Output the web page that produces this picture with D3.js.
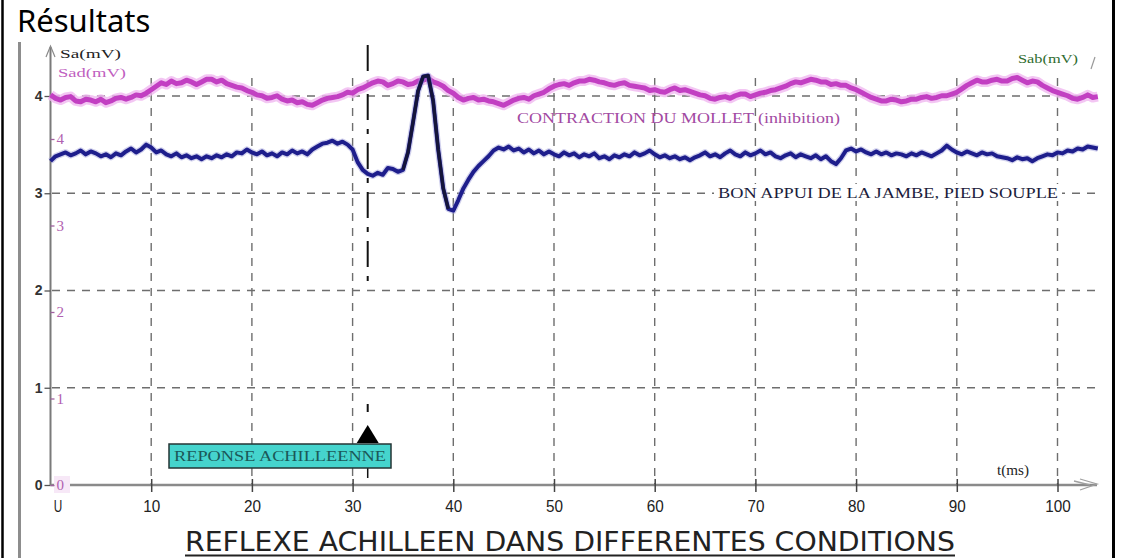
<!DOCTYPE html>
<html>
<head>
<meta charset="utf-8">
<script src="https://cdn.jsdelivr.net/npm/d3@7"></script>
<style>
  body { margin: 0; background: #fff; }
  svg { display: block; }
</style>
</head>
<body>
<div id="chart"></div>
<script>
var svgWidth = 1123;
var svgHeight = 558;

// sampling of the recorder, ms
var sampleStep = 0.5;

// Sa (blue trace, black scale) read every 0.5 ms from 0 to 104 ms
var saValues = [
  3.33, 3.38, 3.40, 3.42, 3.39, 3.41, 3.44, 3.40, 3.43, 3.41,
  3.38, 3.40, 3.37, 3.41, 3.39, 3.43, 3.46, 3.42, 3.45, 3.50,
  3.47, 3.42, 3.44, 3.40, 3.38, 3.41, 3.37, 3.39, 3.36, 3.38,
  3.35, 3.38, 3.36, 3.39, 3.37, 3.40, 3.38, 3.42, 3.41, 3.45,
  3.42, 3.40, 3.43, 3.39, 3.41, 3.38, 3.42, 3.40, 3.44, 3.41,
  3.43, 3.40, 3.45, 3.48, 3.51, 3.52, 3.54, 3.51, 3.53, 3.50,
  3.45, 3.32, 3.24, 3.20, 3.18, 3.21, 3.19, 3.26, 3.25, 3.22,
  3.24, 3.42, 3.73, 4.05, 4.20, 4.21, 3.95, 3.45, 3.05, 2.84,
  2.82, 2.93, 3.05, 3.14, 3.22, 3.28, 3.33, 3.38, 3.44, 3.47,
  3.45, 3.48, 3.44, 3.46, 3.42, 3.45, 3.41, 3.44, 3.40, 3.43,
  3.40, 3.38, 3.42, 3.39, 3.41, 3.37, 3.40, 3.38, 3.41, 3.36,
  3.38, 3.35, 3.39, 3.37, 3.40, 3.38, 3.42, 3.39, 3.41, 3.44,
  3.40, 3.37, 3.39, 3.36, 3.38, 3.35, 3.37, 3.34, 3.37, 3.39,
  3.42, 3.38, 3.40, 3.37, 3.41, 3.44, 3.40, 3.38, 3.42, 3.39,
  3.41, 3.44, 3.40, 3.42, 3.38, 3.36, 3.39, 3.41, 3.37, 3.40,
  3.38, 3.36, 3.39, 3.35, 3.38, 3.33, 3.30, 3.36, 3.44, 3.46,
  3.43, 3.45, 3.42, 3.40, 3.43, 3.40, 3.42, 3.39, 3.41, 3.40,
  3.38, 3.41, 3.39, 3.42, 3.40, 3.38, 3.41, 3.44, 3.49, 3.45,
  3.42, 3.40, 3.43, 3.41, 3.39, 3.42, 3.40, 3.41, 3.38, 3.37,
  3.36, 3.34, 3.37, 3.35, 3.36, 3.33, 3.36, 3.38, 3.40, 3.39,
  3.42, 3.41, 3.44, 3.43, 3.46, 3.45, 3.48, 3.47, 3.46
];

// Sad (purple trace, purple scale) read every 0.5 ms from 0 to 104 ms
var sadValues = [
  4.51, 4.47, 4.45, 4.48, 4.49, 4.44, 4.43, 4.46, 4.45, 4.43,
  4.46, 4.42, 4.44, 4.47, 4.48, 4.46, 4.48, 4.51, 4.50, 4.53,
  4.57, 4.61, 4.65, 4.63, 4.67, 4.64, 4.65, 4.68, 4.66, 4.63,
  4.66, 4.69, 4.69, 4.66, 4.68, 4.64, 4.62, 4.60, 4.59, 4.56,
  4.54, 4.51, 4.50, 4.47, 4.48, 4.50, 4.46, 4.44, 4.45, 4.42,
  4.43, 4.40, 4.39, 4.42, 4.45, 4.47, 4.48, 4.49, 4.51, 4.54,
  4.53, 4.57, 4.59, 4.62, 4.65, 4.67, 4.66, 4.62, 4.64, 4.67,
  4.66, 4.63, 4.64, 4.67, 4.68, 4.70, 4.66, 4.64, 4.61, 4.56,
  4.53, 4.48, 4.45, 4.47, 4.48, 4.45, 4.46, 4.44, 4.43, 4.41,
  4.39, 4.42, 4.45, 4.47, 4.48, 4.46, 4.50, 4.52, 4.54, 4.58,
  4.61, 4.63, 4.64, 4.62, 4.65, 4.67, 4.67, 4.69, 4.68, 4.66,
  4.65, 4.63, 4.62, 4.64, 4.65, 4.62, 4.61, 4.60, 4.59, 4.56,
  4.57, 4.55, 4.54, 4.57, 4.59, 4.56, 4.57, 4.55, 4.53, 4.51,
  4.50, 4.47, 4.46, 4.48, 4.49, 4.47, 4.50, 4.52, 4.52, 4.49,
  4.51, 4.53, 4.54, 4.56, 4.57, 4.59, 4.61, 4.64, 4.66, 4.65,
  4.67, 4.69, 4.68, 4.66, 4.66, 4.63, 4.64, 4.62, 4.62, 4.59,
  4.57, 4.54, 4.51, 4.48, 4.46, 4.44, 4.44, 4.46, 4.45, 4.43,
  4.44, 4.46, 4.46, 4.48, 4.49, 4.47, 4.48, 4.50, 4.50, 4.52,
  4.54, 4.58, 4.62, 4.65, 4.68, 4.66, 4.66, 4.68, 4.69, 4.67,
  4.67, 4.70, 4.71, 4.68, 4.65, 4.67, 4.66, 4.62, 4.59, 4.56,
  4.54, 4.52, 4.50, 4.47, 4.46, 4.48, 4.51, 4.48, 4.49
];

var timeTicks = [0, 10, 20, 30, 40, 50, 60, 70, 80, 90, 100];
var timeTickLabels = ["U", "10", "20", "30", "40", "50", "60", "70", "80", "90", "100"];
var saTicks = [0, 1, 2, 3, 4];
var sadTicks = [0, 1, 2, 3, 4];
var reflexTime = 31.5;

var svg = d3.select("#chart")
  .append("svg")
  .attr("width", svgWidth)
  .attr("height", svgHeight);

var x = d3.scaleLinear().domain([0, 100]).range([50.5, 1057.5]);
var ySa = d3.scaleLinear().domain([0, 4]).range([485, 96]);
var ySad = d3.scaleLinear().domain([0, 4]).range([485, 139]);

// page frame and picture edge
svg.append("line").attr("x1", 2.5).attr("x2", 2.5).attr("y1", 0).attr("y2", svgHeight)
  .attr("stroke", "#000").attr("stroke-width", 2.5);
svg.append("line").attr("x1", 1113.5).attr("x2", 1113.5).attr("y1", 0).attr("y2", svgHeight)
  .attr("stroke", "#000").attr("stroke-width", 3);
svg.append("line").attr("x1", 19.5).attr("x2", 19.5).attr("y1", 42).attr("y2", svgHeight)
  .attr("stroke", "#8d8d8d").attr("stroke-width", 3);

svg.append("text")
  .attr("x", 17).attr("y", 32)
  .attr("font-family", "Noto Sans, Open Sans, sans-serif")
  .attr("font-size", 31)
  .attr("fill", "#000")
  .text("Résultats");

// grid
var grid = svg.append("g")
  .attr("stroke", "#6e6e6e")
  .attr("stroke-width", 1.4)
  .attr("stroke-dasharray", "8,7");

grid.selectAll(".hgrid")
  .data(saTicks.slice(1))
  .enter()
  .append("line")
  .attr("x1", 52).attr("x2", 1097)
  .attr("y1", d => ySa(d)).attr("y2", d => ySa(d));

grid.selectAll(".vgrid")
  .data(timeTicks.slice(1))
  .enter()
  .append("line")
  .attr("x1", d => x(d)).attr("x2", d => x(d))
  .attr("y1", 78).attr("y2", 485);

// reflex marker line
var markX = x(reflexTime);
svg.append("line")
  .attr("x1", markX).attr("x2", markX).attr("y1", 45).attr("y2", 290)
  .attr("stroke", "#111").attr("stroke-width", 2)
  .attr("stroke-dasharray", "26,9,5,9");
svg.append("line")
  .attr("x1", markX).attr("x2", markX).attr("y1", 404).attr("y2", 412)
  .attr("stroke", "#111").attr("stroke-width", 2);
svg.append("line")
  .attr("x1", markX).attr("x2", markX).attr("y1", 468).attr("y2", 478)
  .attr("stroke", "#111").attr("stroke-width", 1.5);

// axes lines
svg.append("line").attr("x1", 50.5).attr("x2", 50.5).attr("y1", 485).attr("y2", 47)
  .attr("stroke", "#7a7a7a").attr("stroke-width", 2);
svg.append("path").attr("d", "M46,57 L50.5,46 L55,57")
  .attr("fill", "none").attr("stroke", "#8a8a8a").attr("stroke-width", 1.2);
svg.append("line").attr("x1", 50.5).attr("x2", 1097).attr("y1", 485).attr("y2", 485)
  .attr("stroke", "#8a8a8a").attr("stroke-width", 2.5);
svg.append("path").attr("d", "M1080,479 L1097,484 L1080,490 M1074,481 L1090,485")
  .attr("fill", "none").attr("stroke", "#a0a0a0").attr("stroke-width", 1.3);

// x axis ticks and labels
var xAxis = svg.append("g")
  .attr("transform", "translate(0,485)")
  .call(d3.axisBottom(x).tickValues(timeTicks).tickSize(7).tickPadding(8)
    .tickFormat((d, i) => timeTickLabels[i]));
xAxis.select(".domain").remove();
xAxis.selectAll(".tick line").attr("y1", -6).attr("stroke", "#444").attr("stroke-width", 1.5);
xAxis.selectAll(".tick text")
  .attr("font-family", "Liberation Sans, sans-serif")
  .attr("textLength", (d, i) => timeTickLabels[i].length * 8.5)
  .attr("lengthAdjust", "spacingAndGlyphs")
  .attr("fill", "#222")
  .attr("dx", (d, i) => i === 0 ? 7 : 0)
  .style("font-size", "17px");
xAxis.select(".tick line").remove();

// Sa axis (black)
var saAxis = svg.append("g")
  .attr("transform", "translate(50.5,0)")
  .call(d3.axisLeft(ySa).tickValues(saTicks).tickSize(6).tickPadding(2).tickFormat(d3.format("d")));
saAxis.select(".domain").remove();
saAxis.selectAll(".tick line").attr("stroke", "#555").attr("stroke-width", 1.3);
saAxis.selectAll(".tick text")
  .attr("font-family", "Liberation Sans, Arial, sans-serif")
  .attr("font-weight", "bold")
  .attr("fill", "#333")
  .style("font-size", "14px");

// Sad axis (purple)
svg.append("rect").attr("x", 54).attr("y", 476).attr("width", 16).attr("height", 17)
  .attr("fill", "#f7e8f7");
var sadAxis = svg.append("g")
  .attr("transform", "translate(50.5,0)")
  .call(d3.axisRight(ySad).tickValues(sadTicks).tickSize(4).tickPadding(2).tickFormat(d3.format("d")));
sadAxis.select(".domain").remove();
sadAxis.selectAll(".tick line").attr("stroke", "#a060a0").attr("stroke-width", 1.3);
sadAxis.selectAll(".tick text")
  .attr("font-family", "Liberation Serif, serif")
  .attr("fill", "#b060b0")
  .style("font-size", "15px");

// traces
var saLine = d3.line()
  .x((d, i) => x(i * sampleStep))
  .y(d => ySa(d));
var sadLine = d3.line()
  .x((d, i) => x(i * sampleStep))
  .y(d => ySad(d));

svg.append("path").datum(sadValues)
  .attr("d", sadLine)
  .attr("fill", "none").attr("stroke", "#f0b8f0").attr("stroke-width", 10)
  .attr("stroke-linejoin", "round").attr("opacity", 0.8);
svg.append("path").datum(sadValues)
  .attr("d", sadLine)
  .attr("fill", "none").attr("stroke", "#c23fc2").attr("stroke-width", 5)
  .attr("stroke-linejoin", "round");

svg.append("path").datum(saValues)
  .attr("d", saLine)
  .attr("fill", "none").attr("stroke", "#9a9ad8").attr("stroke-width", 6.5)
  .attr("stroke-linejoin", "round").attr("opacity", 0.45);
svg.append("path").datum(saValues)
  .attr("d", saLine)
  .attr("fill", "none").attr("stroke", "#1e1e8c").attr("stroke-width", 4)
  .attr("stroke-linejoin", "round");

// the spike itself is drawn darker
var spikeStart = 70, spikeEnd = 80;
svg.append("path").datum(saValues.slice(spikeStart, spikeEnd))
  .attr("d", d3.line().x((d, i) => x((i + spikeStart) * sampleStep)).y(d => ySa(d)))
  .attr("fill", "none").attr("stroke", "#15153a").attr("stroke-width", 3.2)
  .attr("stroke-linejoin", "round");

// annotations
svg.append("text")
  .attr("x", 60).attr("y", 58)
  .attr("font-family", "Liberation Serif, serif").attr("font-size", 13)
  .attr("textLength", 61).attr("lengthAdjust", "spacingAndGlyphs")
  .attr("fill", "#222").text("Sa(mV)");
svg.append("text")
  .attr("x", 58).attr("y", 77)
  .attr("font-family", "Liberation Serif, serif").attr("font-size", 13)
  .attr("textLength", 68).attr("lengthAdjust", "spacingAndGlyphs")
  .attr("fill", "#c060c0").text("Sad(mV)");
svg.append("text")
  .attr("x", 1018).attr("y", 63)
  .attr("font-family", "Liberation Serif, serif").attr("font-size", 13)
  .attr("textLength", 60).attr("lengthAdjust", "spacingAndGlyphs")
  .attr("fill", "#2e6b2e").text("Sab(mV)");
svg.append("line").attr("x1", 1091).attr("x2", 1095).attr("y1", 69).attr("y2", 57)
  .attr("stroke", "#999").attr("stroke-width", 1.2);

svg.append("text")
  .attr("x", 517).attr("y", 123)
  .attr("font-family", "Liberation Serif, serif").attr("font-size", 14)
  .attr("textLength", 323).attr("lengthAdjust", "spacingAndGlyphs")
  .attr("fill", "#a24aa2").text("CONTRACTION DU MOLLET (inhibition)");

svg.append("rect").attr("x", 714).attr("y", 184).attr("width", 348).attr("height", 17)
  .attr("fill", "#fff");
svg.append("text")
  .attr("x", 718).attr("y", 198)
  .attr("font-family", "Liberation Serif, serif").attr("font-size", 14.5)
  .attr("textLength", 340).attr("lengthAdjust", "spacingAndGlyphs")
  .attr("fill", "#1c1c3c").text("BON APPUI DE LA JAMBE, PIED SOUPLE");

// reflex arrow and label box
svg.append("path")
  .attr("d", `M${markX},425 L${markX + 11},443 L${markX - 11},443 Z`)
  .attr("fill", "#000");
svg.append("rect").attr("x", 169).attr("y", 444).attr("width", 222).attr("height", 24)
  .attr("fill", "#45d4cd").attr("stroke", "#253535").attr("stroke-width", 1.5);
svg.append("text")
  .attr("x", 174).attr("y", 461)
  .attr("font-family", "Liberation Serif, serif").attr("font-size", 15)
  .attr("textLength", 212).attr("lengthAdjust", "spacingAndGlyphs")
  .attr("fill", "#1b5858").text("REPONSE ACHILLEENNE");

svg.append("text")
  .attr("x", 997).attr("y", 475)
  .attr("font-family", "Liberation Serif, serif").attr("font-size", 14)
  .attr("textLength", 32).attr("lengthAdjust", "spacingAndGlyphs")
  .attr("fill", "#222").text("t(ms)");

// title
svg.append("text")
  .attr("x", 185).attr("y", 551)
  .attr("font-family", "DejaVu Sans, sans-serif").attr("font-size", 27)
  .attr("textLength", 770).attr("lengthAdjust", "spacingAndGlyphs")
  .attr("fill", "#222").text("REFLEXE ACHILLEEN DANS DIFFERENTES CONDITIONS");
svg.append("line").attr("x1", 185).attr("x2", 955).attr("y1", 555.5).attr("y2", 555.5)
  .attr("stroke", "#222").attr("stroke-width", 2);
</script>
</body>
</html>
